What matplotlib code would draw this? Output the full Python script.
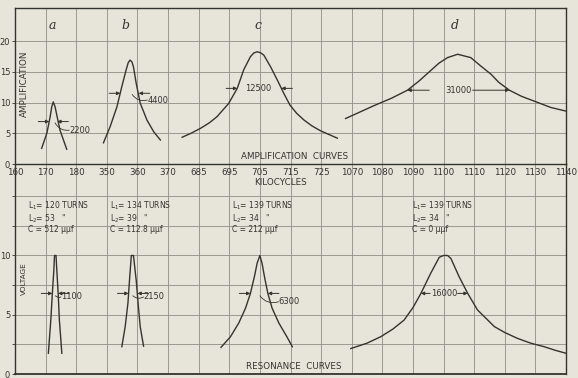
import numpy as np
import matplotlib
matplotlib.use("Agg")
import matplotlib.pyplot as plt

# x axis: four broken frequency ranges, 10 kc per grid square
TICKS_KHZ = [160, 170, 180, 350, 360, 370, 685, 695, 705, 715, 725,
             1070, 1080, 1090, 1100, 1110, 1120, 1130, 1140]
SEG_START_KHZ = np.array([160, 350, 685, 1070])
SEG_START_GRID = np.array([0, 3, 6, 11])

# amplification curves (kilocycles, amplification)
AMP_A_KHZ = [168.7, 170.4, 171.5, 172.0, 172.5, 173.1, 173.65, 174.7, 176.9]
AMP_A_VAL = [2.55, 5.0, 7.7, 9.3, 10.1, 9.3, 7.95, 5.5, 2.4]
AMP_B_KHZ = [348.9, 351.1, 353.3, 354.9, 356.3, 357.0, 357.6, 358.2, 358.7, 359.6,
             360.9, 363.1, 365.3, 367.5]
AMP_B_VAL = [3.45, 6.1, 9.3, 12.6, 15.3, 16.5, 16.9, 16.6, 15.8, 13.1,
             9.9, 7.15, 5.25, 3.9]
AMP_C_KHZ = [679.6, 682.5, 685.6, 688.5, 691.0, 694.8, 697.6, 699.7, 701.9, 703.0, 704.1,
             705.2, 706.3, 708.5, 710.7, 712.8, 714.8, 717.0, 719.4, 722.0, 724.8, 730.3]
AMP_C_VAL = [4.35, 5.0, 5.8, 6.7, 7.7, 9.85, 12.3, 15.3, 17.45, 18.05, 18.25,
             18.1, 17.7, 15.8, 13.65, 11.5, 9.6, 8.25, 7.15, 6.2, 5.4, 4.2]
AMP_D_KHZ = [1068.0, 1072.0, 1077.3, 1083.0, 1088.2, 1092.0, 1095.8, 1098.5, 1101.3,
             1104.6, 1108.9, 1112.0, 1115.5, 1118.0, 1121.5, 1125.5, 1130.8, 1135.0, 1140.0]
AMP_D_VAL = [7.4, 8.3, 9.5, 10.7, 12.0, 13.5, 15.2, 16.4, 17.3,
             17.85, 17.3, 16.0, 14.6, 13.3, 12.0, 11.0, 10.0, 9.2, 8.6]

# resonance curves (kilocycles, voltage)
RES_A_KHZ = [170.9, 171.7, 172.2, 172.7, 172.9, 173.4, 173.65, 174.1, 174.5, 175.3]
RES_A_VAL = [1.75, 4.55, 6.8, 8.8, 10.0, 10.0, 8.8, 6.8, 4.55, 1.75]
RES_B_KHZ = [354.9, 356.0, 356.9, 357.4, 358.0, 358.7, 359.6, 360.2, 360.9, 362.0]
RES_B_VAL = [2.3, 4.0, 6.0, 7.9, 10.0, 10.0, 7.9, 6.0, 4.0, 2.35]
RES_C_KHZ = [692.3, 695.4, 698.1, 700.3, 701.9, 703.2, 704.1, 705.0,
             705.7, 706.5, 707.6, 709.0, 711.2, 713.8, 715.6]
RES_C_VAL = [2.25, 3.15, 4.3, 5.55, 6.8, 8.2, 9.35, 10.0,
             9.35, 8.2, 6.8, 5.55, 4.3, 3.15, 2.3]
RES_D_KHZ = [1069.7, 1075.0, 1079.5, 1083.5, 1087.1, 1090.0, 1092.6, 1095.8, 1098.6,
             1100.0, 1101.3, 1102.4, 1105.1, 1107.9, 1111.1, 1116.6, 1120.0, 1124.2,
             1128.5, 1132.9, 1136.5, 1140.0]
RES_D_VAL = [2.15, 2.6, 3.15, 3.8, 4.55, 5.6, 6.8, 8.5, 9.85,
             10.0, 10.0, 9.75, 8.2, 6.8, 5.4, 4.0, 3.5, 3.0,
             2.6, 2.3, 2.0, 1.75]

# band widths: (left edge kc, right edge kc, level, label)
AMP_WIDTHS = [(171.2, 173.8, 6.9, "2200"), (354.4, 360.4, 11.5, "4400"),
              (697.6, 712.0, 12.3, "12500"), (1088.2, 1121.5, 12.0, "31000")]
RES_WIDTHS = [(172.2, 174.1, 6.8, "1100"), (357.1, 360.0, 6.8, "2150"),
              (701.9, 707.6, 6.8, "6300"), (1092.6, 1107.9, 6.8, "16000")]

COILS = [("120", "53", "512"), ("134", "39", "112.8"),
         ("139", "34", "212"), ("139", "34", "0")]

BG = "#e7e5da"
INK = "#34342f"
GRID = "#8e8d86"


def khz_to_grid(f):
    f = np.asarray(f, dtype=float)
    k = np.searchsorted([265, 527, 900], f)
    return SEG_START_GRID[k] + (f - SEG_START_KHZ[k]) / 10.0


def grid_to_khz(g):
    g = np.asarray(g, dtype=float)
    k = np.searchsorted([2.4, 5.2, 10.65], g)
    return SEG_START_KHZ[k] + (g - SEG_START_GRID[k]) * 10.0


def setup_axis(ax, ymax, yticks, ylabels):
    ax.set_facecolor(BG)
    ax.set_xscale("function", functions=(khz_to_grid, grid_to_khz))
    ax.set_xlim(160, 1140)
    ax.set_xticks(TICKS_KHZ)
    ax.set_xticklabels([str(t) for t in TICKS_KHZ])
    ax.set_ylim(0, ymax)
    ax.set_yticks(yticks)
    ax.set_yticklabels(ylabels)
    ax.set_axisbelow(True)
    ax.grid(True, color=GRID, lw=0.6)
    ax.tick_params(axis="x", length=0, pad=3, labelsize=6.3, colors=INK)
    ax.tick_params(axis="y", length=2.5, width=0.6, pad=1, labelsize=6, colors=INK)
    for s in ax.spines.values():
        s.set_color(INK)
        s.set_linewidth(1.0)


def inward_arrows(ax, left, right, y):
    for x, dx in ((left, -8), (right, 8)):
        ax.annotate("", xy=(x, y), xytext=(dx, 0), textcoords="offset points",
                    arrowprops=dict(arrowstyle="-|>", lw=0.7, color=INK,
                                    mutation_scale=5, shrinkA=0, shrinkB=0))


def leader(ax, x0, x1, y, label, dy):
    ax.annotate("", xy=(x1, y - dy), xytext=(x0, y - 0.2),
                arrowprops=dict(arrowstyle="-", lw=0.6, color=INK,
                                connectionstyle="arc3,rad=0.35", shrinkA=0, shrinkB=0))
    ax.text(x1, y - dy, label, fontsize=6, color=INK, ha="left", va="center")


fig = plt.figure(figsize=(5.78, 3.78), dpi=100, facecolor=BG)
W, H = 578.0, 378.0
ax2 = fig.add_axes([15 / W, (H - 374) / H, 551 / W, 210 / H])
ax1 = fig.add_axes([15 / W, (H - 164) / H, 551 / W, 156 / H])
ax1.set_zorder(3)

setup_axis(ax1, 25.37, [0, 5, 10, 15, 20], ["0", "5", "10", "15", "20"])
setup_axis(ax2, 17.72, [0, 2.5, 5, 7.5, 10, 12.5, 15], ["0", "", "5", "", "10", "", ""])
ax2.tick_params(axis="x", labelbottom=False)
ax2.spines["top"].set_visible(False)
ax2.spines["bottom"].set_linewidth(1.3)

# ---- amplification curves
for xs, ys in ((AMP_A_KHZ, AMP_A_VAL), (AMP_B_KHZ, AMP_B_VAL),
               (AMP_C_KHZ, AMP_C_VAL), (AMP_D_KHZ, AMP_D_VAL)):
    ax1.plot(xs, ys, color=INK, lw=1.0)

l, r, y, t = AMP_WIDTHS[0]
inward_arrows(ax1, l, r, y)
leader(ax1, 173.1, 177.7, y, t, 1.4)
l, r, y, t = AMP_WIDTHS[1]
inward_arrows(ax1, l, r, y)
leader(ax1, 358.3, 363.2, y, t, 1.1)
l, r, y, t = AMP_WIDTHS[2]
inward_arrows(ax1, l, r, y)
ax1.text(704.4, y, t, fontsize=6, color=INK, ha="center", va="center")
l, r, y, t = AMP_WIDTHS[3]
ax1.text(1105.0, y, t, fontsize=6, color=INK, ha="center", va="center")
for tip, tail in ((l, 1095.3), (r, 1109.5)):
    ax1.annotate("", xy=(tip, y), xytext=(tail, y),
                 arrowprops=dict(arrowstyle="-|>", lw=0.7, color=INK,
                                 mutation_scale=5, shrinkA=0, shrinkB=0))

for x, letter in zip([0.067, 0.2, 0.441, 0.799], ["a", "b", "c", "d"]):
    ax1.text(x, 0.89, letter, transform=ax1.transAxes, fontsize=9, color=INK,
             family="DejaVu Serif", style="italic", ha="center", va="center")

ax1.text(0.018, 0.513, "AMPLIFICATION", transform=ax1.transAxes, rotation=90,
         fontsize=6.3, color=INK, ha="center", va="center")
ax1.text(0.508, 0.05, "AMPLIFICATION  CURVES", transform=ax1.transAxes,
         fontsize=6.3, color=INK, ha="center", va="center")

# ---- resonance curves
for xs, ys in ((RES_A_KHZ, RES_A_VAL), (RES_B_KHZ, RES_B_VAL),
               (RES_C_KHZ, RES_C_VAL), (RES_D_KHZ, RES_D_VAL)):
    ax2.plot(xs, ys, color=INK, lw=1.0)

l, r, y, t = RES_WIDTHS[0]
inward_arrows(ax2, l, r, y)
leader(ax2, 173.2, 175.0, y, t, 0.3)
l, r, y, t = RES_WIDTHS[1]
inward_arrows(ax2, l, r, y)
leader(ax2, 358.5, 362.0, y, t, 0.3)
l, r, y, t = RES_WIDTHS[2]
inward_arrows(ax2, l, r, y)
leader(ax2, 705.0, 711.1, y, t, 0.7)
l, r, y, t = RES_WIDTHS[3]
ax2.text(1100.1, y, t, fontsize=6, color=INK, ha="center", va="center")
for tip, tail in ((l, 1095.6), (r, 1104.6)):
    ax2.annotate("", xy=(tip, y), xytext=(tail, y),
                 arrowprops=dict(arrowstyle="-|>", lw=0.7, color=INK,
                                 mutation_scale=5, shrinkA=0, shrinkB=0))

for x, (l1, l2, c) in zip([0.024, 0.172, 0.394, 0.72], COILS):
    ax2.text(x, 0.83,
             f"L$_1$= {l1} TURNS\nL$_2$= {l2}   \"\nC = {c} μμf",
             transform=ax2.transAxes, fontsize=5.5, color=INK,
             ha="left", va="top", linespacing=1.0)

ax2.text(0.016, 0.452, "VOLTAGE", transform=ax2.transAxes, rotation=90,
         fontsize=5.3, color=INK, ha="center", va="center")
ax2.text(0.481, 0.912, "KILOCYCLES", transform=ax2.transAxes,
         fontsize=6.3, color=INK, ha="center", va="center")
ax2.text(0.505, 0.035, "RESONANCE  CURVES", transform=ax2.transAxes,
         fontsize=6.3, color=INK, ha="center", va="center")

fig.savefig("out.png", dpi=100, facecolor=BG)
